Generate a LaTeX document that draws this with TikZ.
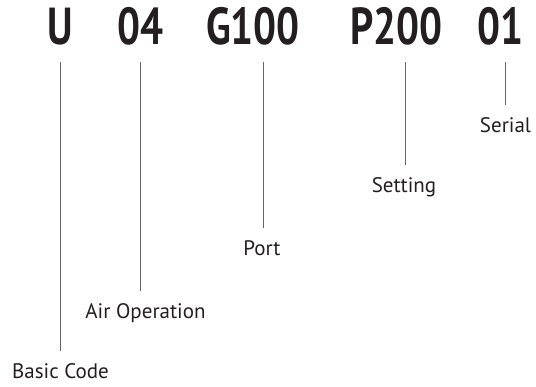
\documentclass[tikz,border=0pt]{standalone}
\usepackage{fontspec}
\setmainfont{PT Sans}
\newfontfamily\codefont[FakeStretch=0.78]{PT Sans}
\definecolor{ink}{HTML}{231F20}
\definecolor{rule}{HTML}{666666}
\begin{document}
\begin{tikzpicture}[x=1pt,y=-1pt,
  code/.style={inner sep=0pt,anchor=base west,text=ink,font=\codefont\bfseries\fontsize{52}{52}\selectfont},
  lbl/.style={inner sep=0pt,anchor=base,text=ink,font=\fontsize{21}{21}\selectfont},
  leader/.style={draw=rule,line width=0.8pt}]
\useasboundingbox (0,0) rectangle (536,386);
\node[code] (cU) at (47,44) {U};
\node[code] (c04) at (117,44) {04};
\node[code] (cG) at (206,44) {G100};
\node[code] (cP) at (350,44) {P200};
\node[code] (c01) at (477,44) {01};
\node[lbl] (lB) at (60.5,378) {Basic Code};
\node[lbl] (lA) at (145.5,318) {Air Operation};
\node[lbl] (lP) at (262,255) {Port};
\node[lbl] (lS) at (404,192) {Setting};
\node[lbl] (lR) at (505.5,132) {Serial};
\coordinate (tU) at (60,62);
\coordinate (t04) at (140,62);
\coordinate (tG) at (263,62);
\coordinate (tP) at (405,62);
\coordinate (t01) at (505,62);
\draw[leader] (tU) -- ([yshift=12pt]tU |- lB.north);
\draw[leader] (t04) -- ([yshift=12pt]t04 |- lA.north);
\draw[leader] (tG) -- ([yshift=12pt]tG |- lP.north);
\draw[leader] (tP) -- ([yshift=12pt]tP |- lS.north);
\draw[leader] (t01) -- ([yshift=12pt]t01 |- lR.north);
\end{tikzpicture}
\end{document}
